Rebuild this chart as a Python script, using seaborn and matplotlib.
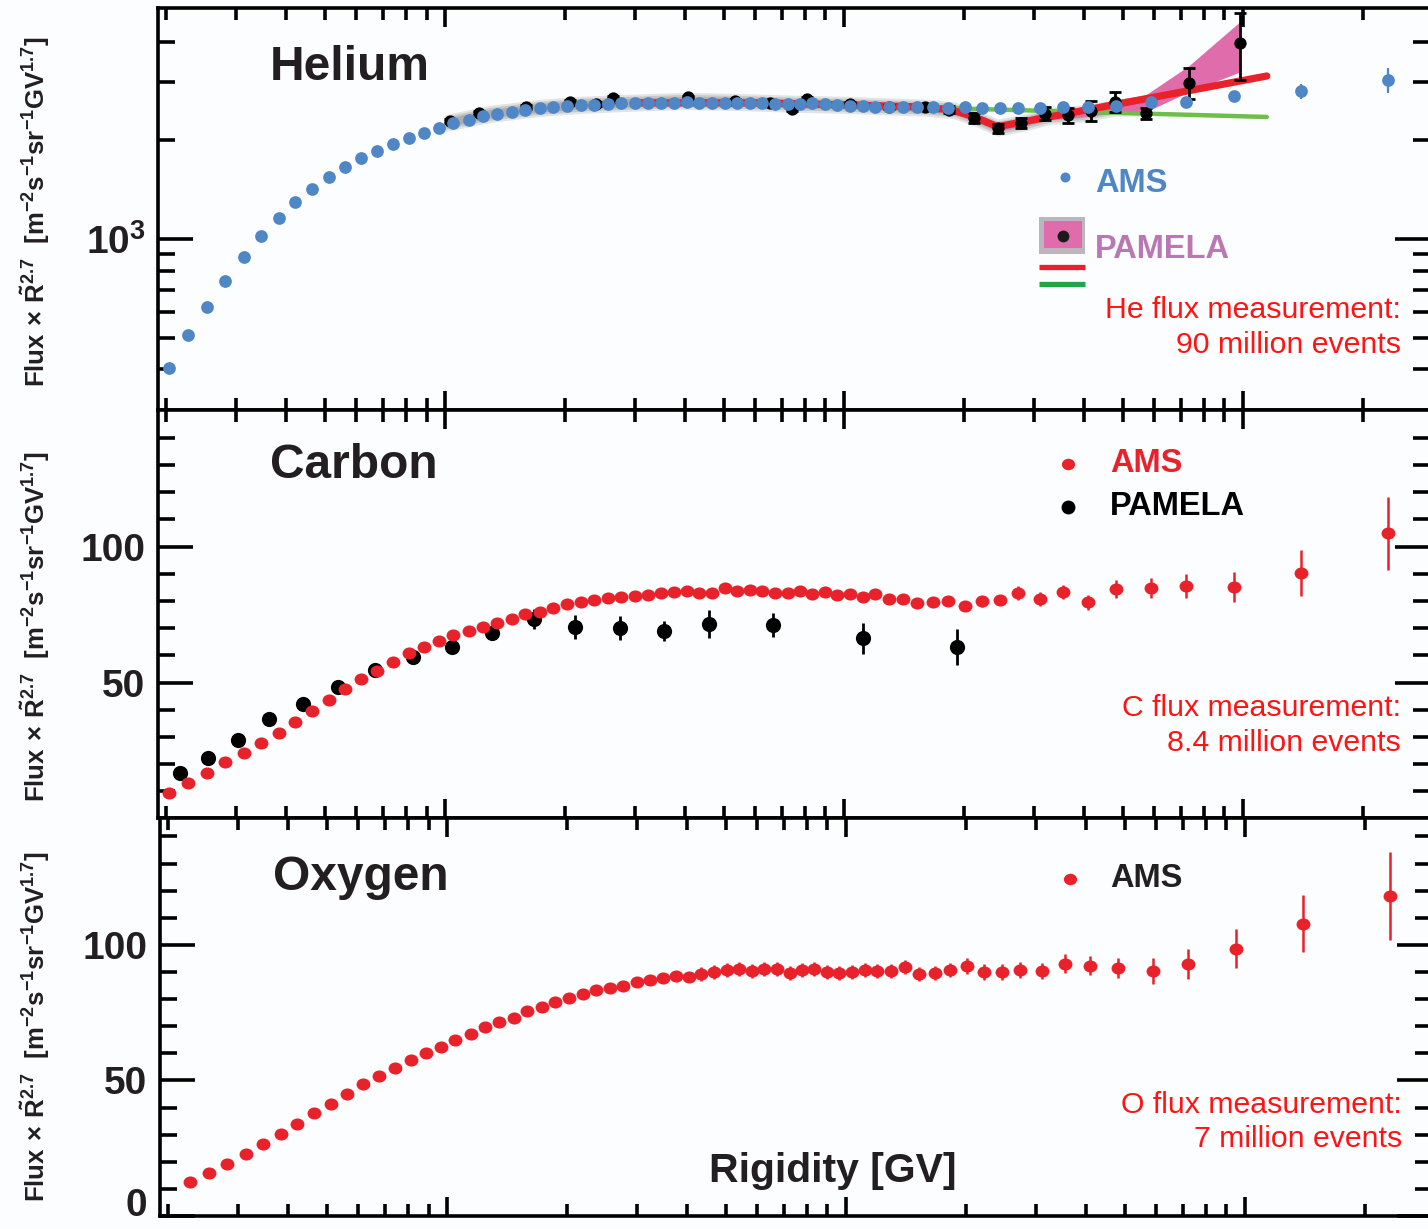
import matplotlib
matplotlib.use("Agg")
import matplotlib.pyplot as plt
import pandas as pd
import seaborn as sns
from matplotlib.patches import Rectangle
from matplotlib.path import Path
from matplotlib.transforms import Affine2D
from matplotlib.ticker import FixedLocator, NullFormatter, FixedFormatter

# ---------------------------------------------------------------- data
# AMS rigidity bins (bin centres, GV)
ams_rigidity = [2.03, 2.27, 2.53, 2.82, 3.13, 3.46, 3.83, 4.22, 4.65, 5.12,
                5.63, 6.18, 6.77, 7.42, 8.11, 8.86, 9.67, 10.5, 11.5, 12.5,
                13.5, 14.7, 15.9, 17.3, 18.7, 20.3, 21.9, 23.7, 25.7, 27.7,
                29.9, 32.3, 34.8, 37.5, 40.4, 43.5, 46.8, 50.3, 54.1, 58.2,
                62.5, 67.2, 72.3, 77.7, 83.4, 89.7, 96.4, 104, 112, 120,
                130, 141, 153, 167, 183, 201, 222, 246, 274, 310,
                354, 409, 481, 589, 720, 950, 1400, 2310]

# Helium, AMS: flux x R^2.7
he_ams_flux = [405, 509, 621, 745, 881, 1021, 1159, 1297, 1420, 1545,
               1658, 1766, 1855, 1949, 2032, 2104, 2178, 2258, 2307, 2372,
               2405, 2438, 2473, 2508, 2526, 2545, 2555, 2570, 2585, 2599,
               2599, 2599, 2605, 2605, 2617, 2605, 2599, 2599, 2599, 2599,
               2590, 2581, 2581, 2581, 2590, 2575, 2563, 2545, 2540, 2526,
               2526, 2526, 2526, 2526, 2508, 2526, 2508, 2508, 2508, 2508,
               2526, 2526, 2545, 2617, 2617, 2729, 2825, 3055]
# visible AMS helium error bars (rigidity -> half width)
he_ams_err = {720: 40, 950: 60, 1400: 150, 2310: 267}

# Helium, PAMELA
he_pam_rigidity = [10.3, 12.2, 16.0, 20.6, 23.9, 26.4, 40.6, 53.3, 65.3, 74.1,
                   80.8, 104, 130, 160, 184, 212, 243, 279, 319, 364,
                   418, 478, 571, 732, 983]
he_pam_flux = [2290, 2420, 2526, 2617, 2581, 2690, 2700, 2636, 2599, 2490,
               2680, 2581, 2526, 2526, 2473, 2339, 2178, 2258, 2405, 2388,
               2455, 2617, 2420, 2990, 3960]
he_pam_err_lo = [30, 32, 33, 34, 34, 35, 36, 35, 35, 34,
                 36, 36, 36, 53, 53, 81, 74, 80, 98, 130,
                 165, 179, 98, 316, 905]
he_pam_err_hi = [30, 32, 33, 34, 34, 35, 36, 35, 35, 34,
                 36, 36, 36, 37, 72, 81, 65, 81, 121, 120,
                 181, 189, 88, 330, 930]

# PAMELA helium systematic band (centre line)
he_sys_rigidity = [10, 13, 17, 22, 30, 40, 55, 75, 100, 130,
                   160, 190, 215, 243, 280, 330, 400, 480, 570]
he_sys_flux = [2260, 2410, 2510, 2570, 2610, 2640, 2620, 2590, 2570, 2540,
               2520, 2470, 2340, 2190, 2260, 2380, 2420, 2520, 2520]

# PAMELA helium high-rigidity uncertainty band
he_pink_rigidity = [212, 243, 279, 319, 364, 418, 478, 571, 732, 983]
he_pink_lo = [2290, 2150, 2210, 2330, 2330, 2380, 2420, 2440, 2806, 3228]
he_pink_hi = [2400, 2250, 2310, 2450, 2480, 2560, 2654, 2748, 3368, 4588]

# Fits to the PAMELA helium spectrum
he_break_rigidity = [30, 60, 100, 150, 185, 212, 243, 1150]
he_break_flux = [2600, 2600, 2565, 2530, 2480, 2360, 2200, 3140]
he_single_rigidity = [60, 1150]
he_single_flux = [2600, 2355]

# Carbon, AMS
c_ams_flux = [9.4, 13.1, 16.8, 20.8, 24.1, 27.8, 31.5, 35.5, 39.6, 43.6,
              47.7, 51.4, 54.3, 57.6, 60.9, 63.1, 65.3, 67.5, 69.0, 70.5,
              72.0, 73.4, 75.2, 76.0, 77.5, 78.9, 79.6, 80.4, 81.1, 81.5,
              81.9, 82.3, 82.9, 83.3, 83.6, 82.9, 82.9, 84.8, 83.7, 84.1,
              83.7, 82.9, 82.9, 83.7, 82.6, 83.3, 82.2, 82.6, 81.5, 82.6,
              80.8, 80.8, 79.3, 79.6, 80.0, 78.2, 80.0, 80.4, 82.9, 80.8,
              83.3, 79.6, 84.4, 84.8, 85.5, 85.2, 90.3, 105.0]
c_ams_err = [0.3, 0.3, 0.3, 0.3, 0.3, 0.3, 0.3, 0.3, 0.3, 0.3,
             0.4, 0.4, 0.4, 0.4, 0.4, 0.4, 0.4, 0.4, 0.4, 0.4,
             0.5, 0.5, 0.5, 0.5, 0.5, 0.5, 0.5, 0.5, 0.5, 0.5,
             0.8, 0.8, 0.8, 0.8, 0.8, 0.8, 0.8, 0.8, 0.8, 0.8,
             0.9, 0.9, 0.9, 0.9, 0.9, 1.2, 1.2, 1.2, 1.3, 1.3,
             1.4, 1.4, 1.5, 1.5, 1.6, 1.8, 2.0, 2.0, 2.6, 2.6,
             2.6, 2.8, 3.3, 3.6, 4.5, 5.5, 8.3, 13.4]

# Carbon, PAMELA
c_pam_rigidity = [2.17, 2.55, 3.03, 3.62, 4.41, 5.39, 6.68, 8.32, 10.4, 13.1,
                  16.7, 21.2, 27.5, 35.4, 45.9, 66.4, 112, 192]
c_pam_flux = [16.8, 22.3, 28.9, 36.6, 42.2, 48.4, 54.7, 59.4, 63.2, 68.2,
              73.4, 70.5, 70.1, 69.0, 71.6, 71.3, 66.4, 63.2]
c_pam_err = [0.8, 0.8, 0.9, 1.0, 1.1, 1.2, 1.3, 1.5, 1.6, 2.0,
             3.7, 4.3, 4.4, 3.7, 5.2, 4.4, 5.7, 6.7]

# Oxygen, AMS (starts at the second rigidity bin)
o_ams_flux = [12.7, 16.0, 19.3, 23.0, 26.6, 30.3, 34.0, 38.1, 41.4, 45.1,
              48.8, 51.7, 54.7, 57.6, 60.2, 62.4, 65.0, 67.2, 69.8, 71.5,
              73.2, 75.7, 77.1, 79.0, 80.4, 81.9, 83.4, 84.2, 84.9, 86.4,
              87.1, 87.9, 88.6, 88.2, 89.3, 90.1, 90.8, 91.2, 90.4, 91.2,
              91.2, 89.7, 90.8, 91.2, 90.1, 89.7, 90.1, 90.8, 90.4, 90.4,
              91.9, 89.3, 89.7, 90.8, 92.3, 90.1, 90.1, 90.8, 90.4, 93.0,
              92.3, 91.5, 90.4, 93.0, 98.6, 107.8, 118.1]
o_ams_err = [0.5, 0.5, 0.5, 0.5, 0.5, 0.5, 0.5, 0.5, 0.5, 0.5,
             0.5, 0.5, 0.5, 0.5, 0.5, 0.5, 0.5, 0.5, 0.5, 1.5,
             1.5, 1.5, 1.5, 1.5, 1.5, 1.5, 1.5, 1.5, 1.5, 1.5,
             1.5, 1.5, 1.5, 1.5, 2.6, 2.6, 2.6, 2.6, 2.6, 2.6,
             2.6, 2.6, 2.6, 2.6, 2.6, 2.6, 2.6, 2.6, 2.6, 2.6,
             2.6, 2.6, 2.6, 2.6, 3.0, 3.0, 3.0, 3.0, 3.0, 3.5,
             3.5, 3.8, 4.7, 5.5, 7.2, 10.6, 16.2]

x_major_ticks = [10, 100, 1000]
x_minor_ticks = [2, 3, 4, 5, 6, 7, 8, 9, 20, 30, 40, 50, 60, 70, 80, 90,
                 200, 300, 400, 500, 600, 700, 800, 900, 2000]
he_y_major = [1000]
he_y_major_labels = [r'$\mathbf{10^{3}}$']
he_y_minor = [400, 500, 600, 700, 800, 900, 2000, 3000, 4000]
c_y_major = [50, 100]
c_y_minor = [10, 20, 30, 40, 60, 70, 80, 90, 110, 120, 130, 140]
o_y_major = [0, 50, 100]
o_y_minor = [10, 20, 30, 40, 60, 70, 80, 90, 110, 120, 130, 140]

# ---------------------------------------------------------------- style
BG = '#fbfdfe'
INK = '#231f20'
AMS_BLUE = '#4f86c6'
AMS_RED = '#e8212b'
NOTE_RED = '#ff1414'
PINK = '#df6dab'
FIT_RED = '#e8212b'
FIT_GREEN = '#6cbf4a'

sns.set_theme(style="ticks")
plt.rcParams.update({
    'font.family': ['Liberation Sans', 'DejaVu Sans'],
    'font.weight': 'bold',
    'mathtext.fontset': 'custom',
    'mathtext.rm': 'Liberation Sans:bold',
    'mathtext.it': 'Liberation Sans:bold',
    'mathtext.bf': 'Liberation Sans:bold',
    'mathtext.sf': 'Liberation Sans:bold',
    'axes.linewidth': 2.6,
    'xtick.direction': 'in',
    'ytick.direction': 'in',
})

W, H = 1428, 1229
fig = plt.figure(figsize=(W / 100, H / 100), dpi=100, facecolor=BG)


def add_axes_px(left, top, right, bottom):
    return fig.add_axes([left / W, 1 - bottom / H, (right - left) / W, (bottom - top) / H])


ax_he = add_axes_px(158, 8, 1430, 410)
ax_c = add_axes_px(158, 410, 1430, 818)
ax_o = add_axes_px(160, 818, 1432, 1216)

for ax in (ax_he, ax_c, ax_o):
    ax.set_xscale('log')
    ax.set_facecolor(BG)
ax_he.set_yscale('log')

ellipse = Path.unit_circle().transformed(Affine2D().scale(1.15, 1.0))

# ---------------------------------------------------------------- helium
he_sys = pd.DataFrame({'R': he_sys_rigidity, 'F': he_sys_flux})
for frac, alpha in [(0.06, 0.20), (0.045, 0.28), (0.03, 0.38)]:
    ax_he.fill_between(he_sys['R'], he_sys['F'] * (1 - frac), he_sys['F'] * (1 + frac),
                       color='#808080', alpha=alpha, lw=0, zorder=1)
ax_he.fill_between(he_pink_rigidity, he_pink_lo, he_pink_hi, color=PINK, lw=0,
                   zorder=1.4)

sns.lineplot(x=he_single_rigidity, y=he_single_flux, ax=ax_he, color=FIT_GREEN,
             lw=3.2, estimator=None, sort=False, zorder=1.7)
sns.lineplot(x=he_break_rigidity, y=he_break_flux, ax=ax_he, color=FIT_RED,
             lw=5.2, estimator=None, sort=False, zorder=1.8,
             solid_joinstyle='miter')

he_pam = pd.DataFrame({'R': he_pam_rigidity, 'F': he_pam_flux,
                       'lo': he_pam_err_lo, 'hi': he_pam_err_hi})
ax_he.errorbar(he_pam['R'], he_pam['F'], yerr=[he_pam['lo'], he_pam['hi']],
               fmt='none', ecolor='black', elinewidth=2.0, capsize=4.5,
               capthick=2.0, zorder=3)
sns.scatterplot(data=he_pam, x='R', y='F', ax=ax_he, color='black', s=78,
                linewidth=0, zorder=3.2)

he_ams = pd.DataFrame({'R': ams_rigidity, 'F': he_ams_flux})
he_err_rows = he_ams[he_ams['R'].isin(list(he_ams_err))]
ax_he.errorbar(he_err_rows['R'], he_err_rows['F'],
               yerr=[he_ams_err[r] for r in he_err_rows['R']],
               fmt='none', ecolor=AMS_BLUE, elinewidth=1.6, zorder=3.5)
sns.scatterplot(data=he_ams, x='R', y='F', ax=ax_he, color=AMS_BLUE, s=84,
                linewidth=0, zorder=4)

# ---------------------------------------------------------------- carbon
c_pam = pd.DataFrame({'R': c_pam_rigidity, 'F': c_pam_flux, 'e': c_pam_err})
ax_c.errorbar(c_pam['R'], c_pam['F'], yerr=c_pam['e'], fmt='none',
              ecolor='black', elinewidth=2.0, zorder=3)
sns.scatterplot(data=c_pam, x='R', y='F', ax=ax_c, color='black', s=120,
                linewidth=0, zorder=3.2)

c_ams = pd.DataFrame({'R': ams_rigidity, 'F': c_ams_flux, 'e': c_ams_err})
ax_c.errorbar(c_ams['R'], c_ams['F'], yerr=c_ams['e'], fmt='none',
              ecolor=AMS_RED, elinewidth=1.8, zorder=3.5)
sns.scatterplot(data=c_ams, x='R', y='F', ax=ax_c, color=AMS_RED, s=100,
                marker=ellipse, linewidth=0, zorder=4)

# ---------------------------------------------------------------- oxygen
o_ams = pd.DataFrame({'R': ams_rigidity[1:], 'F': o_ams_flux, 'e': o_ams_err})
ax_o.errorbar(o_ams['R'], o_ams['F'], yerr=o_ams['e'], fmt='none',
              ecolor=AMS_RED, elinewidth=1.8, zorder=3.5)
sns.scatterplot(data=o_ams, x='R', y='F', ax=ax_o, color=AMS_RED, s=100,
                marker=ellipse, linewidth=0, zorder=4)

# ---------------------------------------------------------------- axes
ylabel = r'Flux$\,\times\,\tilde{R}^{2.7}$  [m$^{-2}$s$^{-1}$sr$^{-1}$GV$^{1.7}$]'

for ax in (ax_he, ax_c, ax_o):
    ax.set_xlim(1.91, 2950)
    ax.xaxis.set_major_locator(FixedLocator(x_major_ticks))
    ax.xaxis.set_minor_locator(FixedLocator(x_minor_ticks))
    ax.xaxis.set_major_formatter(NullFormatter())
    ax.xaxis.set_minor_formatter(NullFormatter())
    ax.tick_params(axis='x', which='both', direction='in', top=True, bottom=True,
                   width=2.6, color='black', labelbottom=False)
    ax.tick_params(axis='x', which='major', length=13.5)
    ax.tick_params(axis='x', which='minor', length=8.5)
    ax.tick_params(axis='y', which='both', direction='in', left=True, right=True,
                   width=2.6, color='black')
    ax.tick_params(axis='y', which='major', length=25, labelsize=28, pad=9,
                   labelcolor=INK)
    ax.tick_params(axis='y', which='minor', length=12)
    ax.yaxis.set_minor_formatter(NullFormatter())
    for sp in ax.spines.values():
        sp.set_linewidth(2.6)
        sp.set_color('black')
        sp.set_zorder(5)
    ax.set_xlabel('')
    ax.set_ylabel(ylabel, fontsize=18.5, fontweight='bold', color=INK)
    ax.yaxis.label.set_va('center')

ax_he.set_ylim(301, 5061)
ax_he.yaxis.set_major_locator(FixedLocator(he_y_major))
ax_he.yaxis.set_major_formatter(FixedFormatter(he_y_major_labels))
ax_he.yaxis.set_minor_locator(FixedLocator(he_y_minor))

ax_c.set_ylim(0.25, 150.25)
ax_c.yaxis.set_major_locator(FixedLocator(c_y_major))
ax_c.yaxis.set_major_formatter(FixedFormatter([str(v) for v in c_y_major]))
ax_c.yaxis.set_minor_locator(FixedLocator(c_y_minor))

ax_o.set_ylim(0, 146.8)
ax_o.yaxis.set_major_locator(FixedLocator(o_y_major))
ax_o.yaxis.set_major_formatter(FixedFormatter([str(v) for v in o_y_major]))
ax_o.yaxis.set_minor_locator(FixedLocator(o_y_minor))
# the zero label sits on its baseline so it stays inside the figure
for lbl in ax_o.get_yticklabels():
    if lbl.get_text() == '0':
        lbl.set_va('baseline')

ax_he.yaxis.set_label_coords(-0.0967, 0.4925)
ax_c.yaxis.set_label_coords(-0.0967, 0.470)
ax_o.yaxis.set_label_coords(-0.0983, 0.475)

# ---------------------------------------------------------------- titles
title_kw = dict(fontsize=34.5, fontweight='bold', color=INK, va='baseline', ha='left')
ax_he.text(0.0881, 0.821, 'Helium', transform=ax_he.transAxes, **title_kw)
ax_c.text(0.0881, 0.833, 'Carbon', transform=ax_c.transAxes, **title_kw)
ax_o.text(0.0888, 0.819, 'Oxygen', transform=ax_o.transAxes, **title_kw)

ax_o.text(0.529, 0.0854, 'Rigidity [GV]', transform=ax_o.transAxes,
          fontsize=29.5, fontweight='bold', color=INK, ha='center', va='baseline')

# ---------------------------------------------------------------- legends
leg_kw = dict(fontsize=23.5, fontweight='bold', va='baseline', ha='left')
note_kw = dict(fontsize=21.8, fontweight='normal', color=NOTE_RED, va='baseline',
               ha='right')

# helium
t = ax_he.transAxes
ax_he.plot([0.7131], [0.5796], 'o', ms=7.2, color=AMS_BLUE, mec='none', transform=t,
           zorder=6)
ax_he.text(0.7366, 0.5423, 'AMS', color=AMS_BLUE, transform=t, **leg_kw)
ax_he.add_patch(Rectangle((0.6926, 0.3881), 0.0362, 0.0920, transform=t,
                          facecolor='#bdb4be', edgecolor='none', zorder=6))
ax_he.add_patch(Rectangle((0.6965, 0.4030), 0.0299, 0.0672, transform=t,
                          facecolor=PINK, edgecolor='none', zorder=6.1))
ax_he.plot([0.7115], [0.4328], 'o', ms=8.5, color='#1a1a1a', mec='none',
           transform=t, zorder=6.2)
ax_he.text(0.7366, 0.3781, 'PAMELA', color='#b978b4', transform=t, **leg_kw)
ax_he.plot([0.6926, 0.7288], [0.3545, 0.3545], color=FIT_RED, lw=3.8,
           solid_capstyle='butt', transform=t, zorder=6)
ax_he.plot([0.6926, 0.7288], [0.3122, 0.3122], color='#1fa64a', lw=3.8,
           solid_capstyle='butt', transform=t, zorder=6)
ax_he.text(0.9772, 0.2289, 'He flux measurement:', transform=t, **note_kw)
ax_he.text(0.9772, 0.1418, '90 million events', transform=t, **note_kw)

# carbon
t = ax_c.transAxes
ax_c.scatter([0.7154], [0.8676], s=90, marker=ellipse, color=AMS_RED, linewidths=0,
             transform=t, zorder=6)
ax_c.text(0.7484, 0.848, 'AMS', color=AMS_RED, transform=t, **leg_kw)
ax_c.scatter([0.7154], [0.7623], s=100, color='black', linewidths=0, transform=t,
             zorder=6)
ax_c.text(0.7484, 0.7426, 'PAMELA', color='black', transform=t, **leg_kw)
ax_c.text(0.9772, 0.250, 'C flux measurement:', transform=t, **note_kw)
ax_c.text(0.9772, 0.1642, '8.4 million events', transform=t, **note_kw)

# oxygen
t = ax_o.transAxes
ax_o.scatter([0.7154], [0.8467], s=90, marker=ellipse, color=AMS_RED, linewidths=0,
             transform=t, zorder=6)
ax_o.text(0.7469, 0.8266, 'AMS', color=INK, transform=t, **leg_kw)
ax_o.text(0.9764, 0.2588, 'O flux measurement:', transform=t, **note_kw)
ax_o.text(0.9764, 0.1734, '7 million events', transform=t, **note_kw)

fig.savefig('out.png', dpi=100, facecolor=BG)
